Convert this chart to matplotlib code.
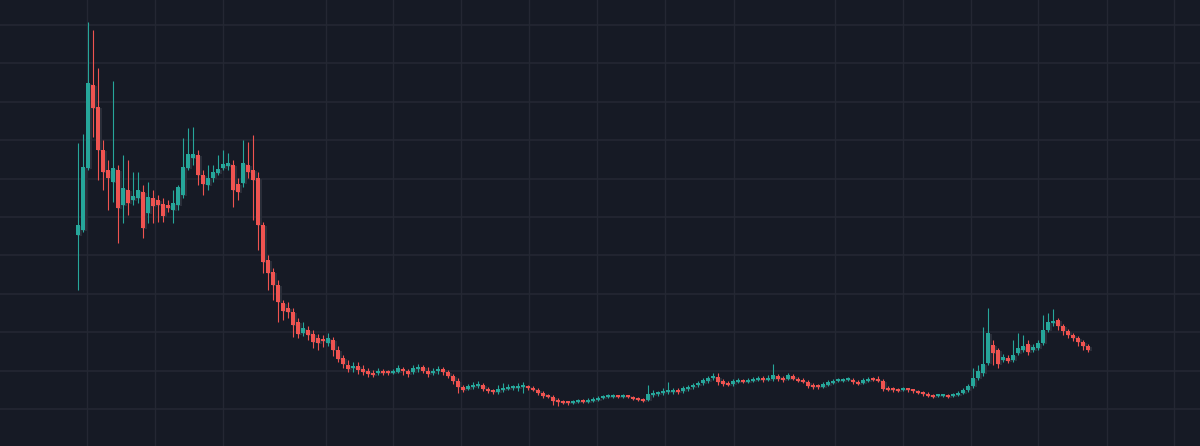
import numpy as np
import matplotlib.pyplot as plt

# candle data (price units, one candle per period)
opens = [211, 216, 278, 361, 339, 296, 276, 264, 276, 241, 256, 246, 248, 254, 233, 248, 246, 242, 241, 236,
         241, 251, 278, 288, 291, 271, 261, 268, 273, 278, 280, 281, 262, 263, 281, 276, 268, 221, 186, 174,
         161, 143, 138, 134, 124, 113, 116, 112, 108, 107, 103, 106, 96, 88, 81, 78, 80, 77, 75, 73,
         73, 75, 74, 73, 74, 77, 75, 74, 77, 79, 75, 73, 75, 77, 74, 70, 65, 59, 57, 59,
         60, 61, 57, 55, 54, 56, 57, 58, 58, 59, 60, 58, 56, 53, 51, 49, 46, 44, 44, 43,
         44, 45, 44, 45, 46, 48, 49, 49, 50, 49, 50, 49, 47, 46, 46, 51, 52, 53, 54, 54,
         56, 55, 57, 59, 61, 63, 65, 68, 69, 65, 63, 62, 64, 65, 64, 65, 66, 68, 66, 67,
         70, 68, 67, 70, 67, 66, 64, 61, 60, 59, 61, 63, 65, 65, 66, 66, 64, 63, 65, 67,
         67, 65, 58, 57, 57, 56, 57, 56, 55, 54, 52, 50, 50, 50, 51, 50, 51, 53, 56, 60,
         68, 73, 83, 101, 96, 86, 88, 86, 93, 96, 102, 96, 98, 103, 116, 123, 126, 120, 115, 111,
         108, 104, 100]
highs = [303, 312, 424, 416, 378, 306, 286, 365, 281, 291, 286, 274, 274, 261, 264, 256, 251, 248, 246, 256,
         261, 308, 318, 319, 296, 276, 281, 281, 291, 296, 293, 286, 268, 306, 304, 311, 274, 224, 191, 178,
         166, 146, 144, 138, 128, 124, 120, 116, 112, 111, 113, 109, 100, 91, 86, 84, 84, 81, 78, 76,
         78, 77, 76, 77, 81, 79, 77, 81, 82, 81, 79, 78, 80, 79, 76, 72, 68, 61, 62, 64,
         65, 63, 59, 57, 61, 63, 62, 61, 63, 64, 61, 60, 58, 55, 52, 51, 48, 46, 45, 46,
         47, 47, 48, 49, 50, 51, 52, 52, 51, 52, 51, 50, 49, 48, 61, 56, 55, 58, 64, 58,
         58, 60, 61, 63, 65, 68, 70, 73, 73, 67, 65, 67, 68, 67, 68, 69, 70, 70, 71, 82,
         72, 70, 73, 72, 69, 68, 66, 63, 62, 64, 66, 67, 68, 68, 69, 68, 66, 68, 69, 69,
         70, 67, 60, 59, 58, 59, 58, 57, 56, 55, 54, 52, 52, 52, 52, 53, 55, 58, 62, 78,
         81, 119, 138, 106, 98, 92, 91, 106, 113, 111, 106, 102, 106, 131, 133, 137, 128, 122, 117, 113,
         110, 106, 102]
lows = [156, 214, 276, 309, 266, 256, 236, 244, 203, 223, 231, 241, 243, 208, 223, 223, 224, 224, 234, 223,
        236, 248, 276, 281, 261, 251, 256, 264, 271, 276, 276, 239, 246, 259, 268, 226, 196, 173, 156, 146,
        124, 126, 128, 109, 108, 110, 106, 98, 96, 99, 100, 90, 84, 78, 74, 74, 72, 71, 69, 69,
        71, 71, 71, 72, 73, 71, 69, 72, 74, 73, 69, 71, 72, 71, 68, 62, 53, 54, 56, 57,
        58, 55, 53, 52, 52, 54, 56, 56, 55, 53, 56, 55, 51, 48, 48, 41, 40, 42, 41, 42,
        43, 43, 43, 44, 45, 47, 48, 48, 48, 48, 48, 46, 45, 44, 45, 49, 50, 51, 52, 52,
        52, 53, 55, 57, 59, 61, 63, 66, 61, 60, 60, 60, 63, 63, 63, 64, 65, 64, 65, 65,
        65, 64, 66, 66, 64, 63, 58, 57, 57, 58, 60, 62, 64, 64, 65, 62, 61, 62, 64, 65,
        64, 55, 55, 54, 54, 55, 54, 53, 52, 50, 49, 48, 49, 49, 48, 49, 50, 52, 54, 58,
        66, 70, 81, 81, 78, 84, 83, 84, 91, 94, 91, 94, 96, 101, 114, 120, 116, 111, 108, 105,
        100, 96, 94]
closes = [221, 279, 363, 338, 296, 274, 268, 278, 238, 258, 243, 250, 256, 218, 249, 240, 241, 230, 238, 243,
          259, 279, 292, 292, 271, 262, 268, 274, 277, 282, 283, 256, 254, 283, 274, 266, 221, 184, 173, 161,
          144, 135, 134, 121, 112, 118, 111, 104, 103, 105, 108, 96, 87, 82, 77, 80, 76, 74, 72, 71,
          75, 73, 73, 75, 78, 75, 72, 78, 79, 75, 72, 75, 77, 74, 70, 65, 59, 56, 60, 61,
          62, 57, 55, 54, 57, 58, 58, 59, 60, 60, 58, 56, 53, 50, 49, 45, 44, 43, 43, 44,
          45, 44, 46, 47, 48, 49, 50, 50, 49, 50, 49, 47, 46, 45, 52, 53, 53, 55, 56, 56,
          54, 58, 59, 61, 63, 66, 68, 70, 64, 62, 61, 65, 66, 64, 66, 67, 68, 66, 68, 71,
          67, 66, 71, 67, 65, 64, 60, 59, 59, 62, 64, 65, 66, 66, 67, 64, 62, 66, 67, 66,
          65, 57, 56, 56, 55, 58, 56, 55, 53, 52, 50, 49, 51, 51, 49, 52, 53, 56, 60, 68,
          75, 82, 113, 93, 82, 89, 85, 91, 98, 100, 94, 99, 103, 116, 124, 125, 120, 115, 111, 108,
          104, 100, 96]

# date grid positions (in candle index units)
vgrid = [1.8, 15.4, 29, 49.6, 63, 76.6, 90.2, 103.8, 117.4, 131.2, 151.4, 165, 178.6, 192, 205.8, 219.2]

bg = '#161a25'
up = '#26a69a'
down = '#ef5350'
gridc = '#242733'

o = np.array(opens)
h = np.array(highs)
l = np.array(lows)
c = np.array(closes)
x = np.arange(len(o))
col = np.where(c >= o, up, down)

fig = plt.figure(figsize=(12, 4.46), dpi=100)
fig.patch.set_facecolor(bg)
ax = fig.add_axes([0, 0, 1, 1])
ax.set_facecolor(bg)

for gx in vgrid:
    ax.axvline(gx, color=gridc, lw=1, zorder=0)
for gy in np.arange(37, 446, 38.4):
    ax.axhline(gy, color=gridc, lw=1.2, zorder=0)

# shadow behind candles
bot = np.minimum(o, c)
hgt = np.maximum(np.abs(c - o), 2.5)
ax.bar(x + 0.25, hgt, bottom=bot - 1.0, width=0.9, color='#2a2e39', zorder=1)

ax.vlines(x, l, h, colors=col, lw=0.8, zorder=2)
ax.bar(x, hgt, bottom=bot, width=0.85, color=col, zorder=3)

ax.set_xlim(-15.6, 224.4)
ax.set_ylim(0, 446)
ax.set_xticks([])
ax.set_yticks([])
for s in ax.spines.values():
    s.set_visible(False)

fig.savefig('out.png', dpi=100, facecolor=bg)
